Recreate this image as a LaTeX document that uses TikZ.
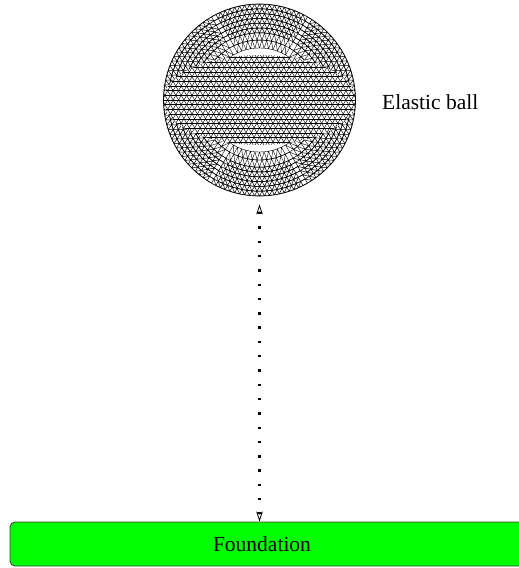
\documentclass[tikz,border=0pt]{standalone}
\usepackage{fontspec}
\setmainfont{Liberation Serif}
\usetikzlibrary{arrows.meta}
\tikzset{
  meshline/.style={line width=0.5pt,black},
  ballnode/.style={circle,draw=black,line width=0.7pt,minimum size=192pt,inner sep=0pt},
  groundbox/.style={draw=black!75,line width=0.9pt,fill=green,rounded corners=5pt,minimum width=530pt,minimum height=44pt,inner sep=0pt},
  labeltext/.style={font=\fontsize{21.5pt}{24pt}\selectfont,inner sep=0pt},
  gaparrow/.style={line width=2.4pt,dash pattern=on 2.4pt off 11.9pt,
    {Stealth[open,fill=white,length=10pt,width=6.5pt,inset=2pt,line width=0.8pt]}-{Stealth[open,fill=white,length=10pt,width=6.5pt,inset=2pt,line width=0.8pt]}}
}
\begin{document}
\begin{tikzpicture}[x=1pt,y=-1pt]
\useasboundingbox (0,0) rectangle (519,568);
\begin{scope}[shift={(259.5,100)}]
  \clip (0,0) circle (96pt);
  \fill[white] (0,0) circle (96pt);
  % outer rings of the mesh
  \foreach \k/\r/\q in {12/52/60,13/60/67.2,14/67.2/72,15/72/76.8,16/76.8/81.6,17/81.6/86.4,18/86.4/91.2,19/91.2/96}{
    \draw[meshline,line width=\ifnum\k<14 0.4pt\else 0.5pt\fi]
      \foreach \s in {0,...,5}{ \foreach \j in {0,...,\numexpr\k-1\relax}{
        ({60*(\s+\j/\k)}:\r pt) -- ({60*(\s+(\j+1)/\k)}:\r pt)
        ({60*(\s+\j/\k)}:\r pt) -- ({60*(\s+\j/(\k+1))}:\q pt)
        ({60*(\s+\j/\k)}:\r pt) -- ({60*(\s+(\j+1)/(\k+1))}:\q pt)
        ({60*(\s+(\j+1)/(\k+1))}:\q pt) -- ({60*(\s+(\j+2)/(\k+1))}:\q pt)
      }};
  }
  % central structured grid, lens shaped
  \fill[white] (0,0) ellipse (96pt and 45pt);
  \begin{scope}
    \clip (0,0) ellipse (96pt and 45pt);
    \foreach \n in {-10,...,10}
      \draw[meshline] (-100,{\n*4.7}) -- (100,{\n*4.7});
    \foreach \n in {-26,...,26}{
      \draw[meshline,line width=0.45pt] ({\n*5.4-30},-51.7) -- ({\n*5.4+30},51.7);
      \draw[meshline,line width=0.45pt] ({\n*5.4+30},-51.7) -- ({\n*5.4-30},51.7);
    }
  \end{scope}
\end{scope}
\node[ballnode] (ball) at (259.5,100) {};
\node[labeltext,anchor=base west] (balllabel) at (382,109) {Elastic ball};
\node[groundbox] (foundation) at (275,544) {};
\node[labeltext,anchor=base] (foundationlabel) at (262,551) {Foundation};
\draw[gaparrow,shorten <=8pt] (ball.south) -- (ball.south |- foundation.north);
\end{tikzpicture}
\end{document}
